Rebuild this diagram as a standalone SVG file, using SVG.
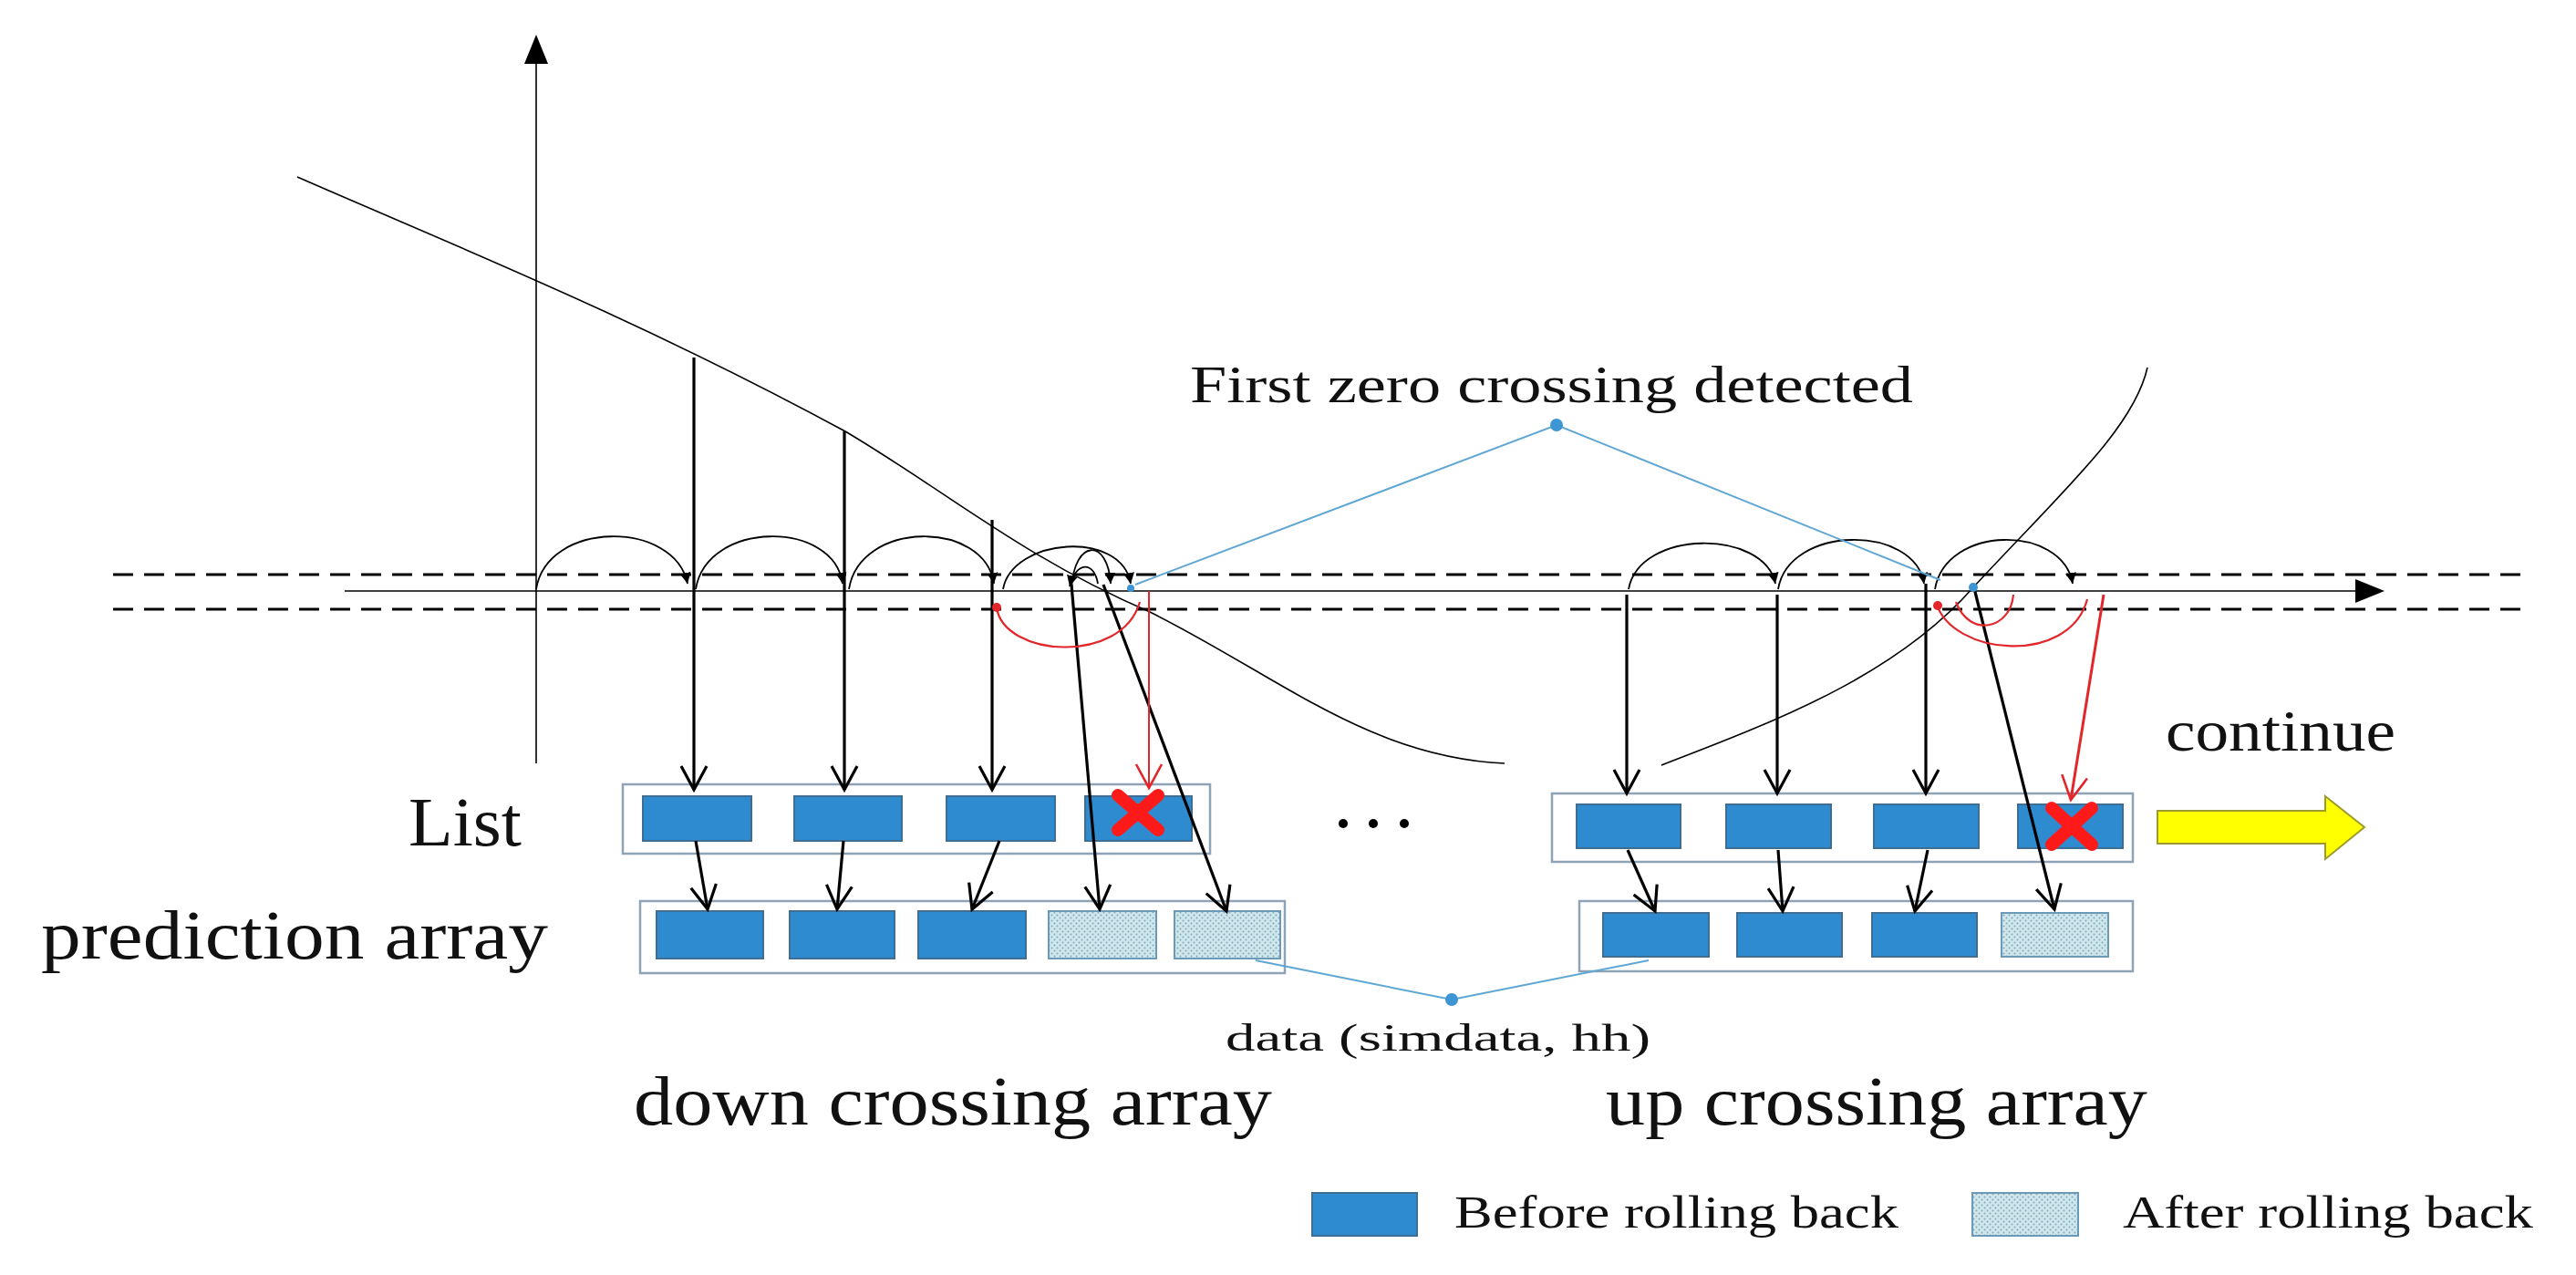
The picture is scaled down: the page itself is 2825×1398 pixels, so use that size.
<svg xmlns="http://www.w3.org/2000/svg" width="2825" height="1398" viewBox="0 0 2825 1398">
<style>
.t{font-family:"Liberation Serif","DejaVu Serif",serif;fill:#111}
.ln{fill:none;stroke:#000;stroke-width:1.6}
.ar{fill:none;stroke:#000;stroke-width:3.2;marker-end:url(#ah)}
.hop{fill:none;stroke:#000;stroke-width:1.8;marker-end:url(#sm)}
.box{fill:#fff;stroke:#8ea3b5;stroke-width:2.5}
.cell{fill:#2e8bd0;stroke:#3f6e92;stroke-width:2}
.pat{fill:url(#dots);stroke:#6a9ab8;stroke-width:2}
.blue{fill:none;stroke:#5ea6d4;stroke-width:2}
.red{fill:none;stroke:#e3262a;stroke-width:2.2}
.dash{stroke:#000;stroke-width:3;stroke-dasharray:22 12}
</style>
<defs>
<marker id="ah" markerWidth="34" markerHeight="34" refX="30" refY="17" orient="auto" markerUnits="userSpaceOnUse" viewBox="0 0 34 34"><path d="M4 3 L30 17 L4 31" fill="none" stroke="#000" stroke-width="3.2"/></marker>
<marker id="ahr" markerWidth="34" markerHeight="34" refX="30" refY="17" orient="auto" markerUnits="userSpaceOnUse" viewBox="0 0 34 34"><path d="M4 3 L30 17 L4 31" fill="none" stroke="#e3262a" stroke-width="2.6"/></marker>
<marker id="sm" markerWidth="14" markerHeight="14" refX="12" refY="7" orient="auto" markerUnits="userSpaceOnUse" viewBox="0 0 14 14"><path d="M0 1 L12 7 L0 13Z" fill="#000"/></marker>
<marker id="big" markerWidth="34" markerHeight="34" refX="30" refY="17" orient="auto" markerUnits="userSpaceOnUse" viewBox="0 0 34 34"><path d="M0 4 L32 17 L0 30Z" fill="#000"/></marker>
<pattern id="dots" width="6" height="6" patternUnits="userSpaceOnUse"><rect width="6" height="6" fill="#cfe6ec"/><circle cx="1.5" cy="1.5" r="1" fill="#7fa9b8"/><circle cx="4.5" cy="4.5" r="1" fill="#7fa9b8"/></pattern>
</defs>
<rect width="2825" height="1398" fill="#fff"/>
<g id="axes">
<line x1="588" y1="837" x2="588" y2="40" class="ln" marker-end="url(#big)"/>
<line x1="124" y1="630" x2="2771" y2="630" class="dash"/>
<line x1="124" y1="668" x2="2771" y2="668" class="dash"/>
<line x1="378" y1="648" x2="2613" y2="648" class="ln" marker-end="url(#big)"/>
</g>
<g id="curves">
<path class="ln" d="M326 194 C500 270 700 350 927 473 C1040 540 1120 610 1261 671 C1400 740 1500 830 1650 837"/>
<path class="ln" d="M1822 839 C1950 790 2080 740 2164 644 C2260 540 2340 470 2355 403"/>
</g>
<g id="list-left">
<rect class="box" x="683" y="860" width="644" height="76"/>
<rect class="cell" x="705" y="873" width="119" height="49"/>
<rect class="cell" x="871" y="873" width="118" height="49"/>
<rect class="cell" x="1038" y="873" width="119" height="49"/>
<rect class="cell" x="1190" y="873" width="117" height="49"/>
<path d="M1226 872 L1270 910 M1270 872 L1226 910" stroke="#ff1a1a" stroke-width="14" stroke-linecap="round"/>
</g>
<g id="pred-left">
<rect class="box" x="702" y="988" width="707" height="79"/>
<rect class="cell" x="720" y="999" width="117" height="52"/>
<rect class="cell" x="866" y="999" width="115" height="52"/>
<rect class="cell" x="1007" y="999" width="118" height="52"/>
<rect class="pat" x="1150" y="999" width="118" height="52"/>
<rect class="pat" x="1288" y="999" width="116" height="52"/>
</g>
<g id="list-right">
<rect class="box" x="1702" y="870" width="637" height="75"/>
<rect class="cell" x="1729" y="882" width="114" height="48"/>
<rect class="cell" x="1893" y="882" width="115" height="48"/>
<rect class="cell" x="2055" y="882" width="115" height="48"/>
<rect class="cell" x="2213" y="882" width="115" height="48"/>
<path d="M2250 886 L2294 926 M2294 886 L2250 926" stroke="#ff1a1a" stroke-width="14" stroke-linecap="round"/>
</g>
<g id="pred-right">
<rect class="box" x="1732" y="988" width="607" height="77"/>
<rect class="cell" x="1758" y="1001" width="116" height="48"/>
<rect class="cell" x="1905" y="1001" width="115" height="48"/>
<rect class="cell" x="2053" y="1001" width="115" height="48"/>
<rect class="pat" x="2195" y="1001" width="117" height="48"/>
</g>
<g id="connectors">
<path class="hop" d="M588 646 C600 570 740 570 754 640"/>
<path class="hop" d="M763 646 C775 570 915 570 924 640"/>
<path class="hop" d="M931 646 C943 570 1080 570 1090 640"/>
<path class="hop" d="M1100 646 C1110 590 1230 580 1240 640"/>
<path class="hop" d="M1175 646 C1178 590 1215 590 1218 640"/>
<path class="hop" d="M1204 640 C1200 615 1180 615 1173 643"/>
<path class="hop" d="M1786 646 C1798 580 1935 580 1947 640"/>
<path class="hop" d="M1950 646 C1962 575 2100 575 2110 640"/>
<path class="hop" d="M2122 646 C2134 575 2262 575 2273 640"/>
<path class="ar" d="M761 392 V866"/>
<path class="ar" d="M926 473 V866"/>
<path class="ar" d="M1088 570 V866"/>
<path class="ar" d="M1175 641 L1206 997"/>
<path class="ar" d="M1210 641 L1345 999"/>
<path class="ar" d="M1784 652 V870"/>
<path class="ar" d="M1949 652 V870"/>
<path class="ar" d="M2112 640 V870"/>
<path class="ar" d="M2164 641 L2253 997"/>
<path class="ar" d="M763 922 L776 997"/>
<path class="ar" d="M925 922 L918 997"/>
<path class="ar" d="M1096 922 L1066 997"/>
<path class="ar" d="M1785 932 L1815 999"/>
<path class="ar" d="M1950 932 L1955 999"/>
<path class="ar" d="M2114 932 L2100 999"/>
<path class="red" d="M1093 666 C1100 720 1230 730 1250 660"/>
<circle cx="1093" cy="666" r="5" fill="#e3262a"/>
<path d="M1260 648 V864" stroke="#e3262a" stroke-width="2" marker-end="url(#ahr)"/>
<path class="red" d="M2123 660 C2140 720 2270 730 2289 657"/>
<path class="red" d="M2145 660 C2160 700 2205 690 2208 652"/>
<circle cx="2125" cy="664" r="5" fill="#e3262a"/>
<path d="M2307 652 L2271 877" stroke="#e3262a" stroke-width="3" marker-end="url(#ahr)"/>
<polyline class="blue" points="1245,641 1707,466 2128,636"/>
<circle cx="1707" cy="466" r="7" fill="#3d95d3"/>
<circle cx="2164" cy="644" r="5" fill="#3d95d3"/>
<circle cx="1240" cy="645" r="4" fill="#3d95d3"/>
<polyline class="blue" points="1377,1053 1592,1096 1808,1053"/>
<circle cx="1592" cy="1096" r="7" fill="#3d95d3"/>
</g>
<g id="continue">
<path d="M2366 889 H2550 V873 L2593 907 L2550 942 V925 H2366Z" fill="#ffff00" stroke="#9a9a30" stroke-width="2"/>
<text class="t" x="2375" y="823" font-size="64" textLength="252" lengthAdjust="spacingAndGlyphs">continue</text>
</g>
<g id="dots-mid">
<circle cx="1473" cy="903" r="5" fill="#000"/><circle cx="1506" cy="903" r="5" fill="#000"/><circle cx="1540" cy="903" r="5" fill="#000"/>
</g>
<g id="labels">
<text class="t" x="448" y="927" font-size="76" textLength="124" lengthAdjust="spacingAndGlyphs">List</text>
<text class="t" x="45" y="1051" font-size="76" textLength="556" lengthAdjust="spacingAndGlyphs">prediction array</text>
<text class="t" x="695" y="1233" font-size="76" textLength="700" lengthAdjust="spacingAndGlyphs">down crossing array</text>
<text class="t" x="1761" y="1233" font-size="76" textLength="594" lengthAdjust="spacingAndGlyphs">up crossing array</text>
<text class="t" x="1305" y="441" font-size="56" textLength="793" lengthAdjust="spacingAndGlyphs">First zero crossing detected</text>
<text class="t" x="1344" y="1152" font-size="42" textLength="466" lengthAdjust="spacingAndGlyphs">data (simdata, hh)</text>
</g>
<g id="legend">
<rect class="cell" x="1439" y="1308" width="115" height="47"/>
<text class="t" x="1595" y="1346" font-size="50" textLength="487" lengthAdjust="spacingAndGlyphs">Before rolling back</text>
<rect class="pat" x="2163" y="1308" width="116" height="47"/>
<text class="t" x="2328" y="1346" font-size="50" textLength="450" lengthAdjust="spacingAndGlyphs">After rolling back</text>
</g>
</svg>
